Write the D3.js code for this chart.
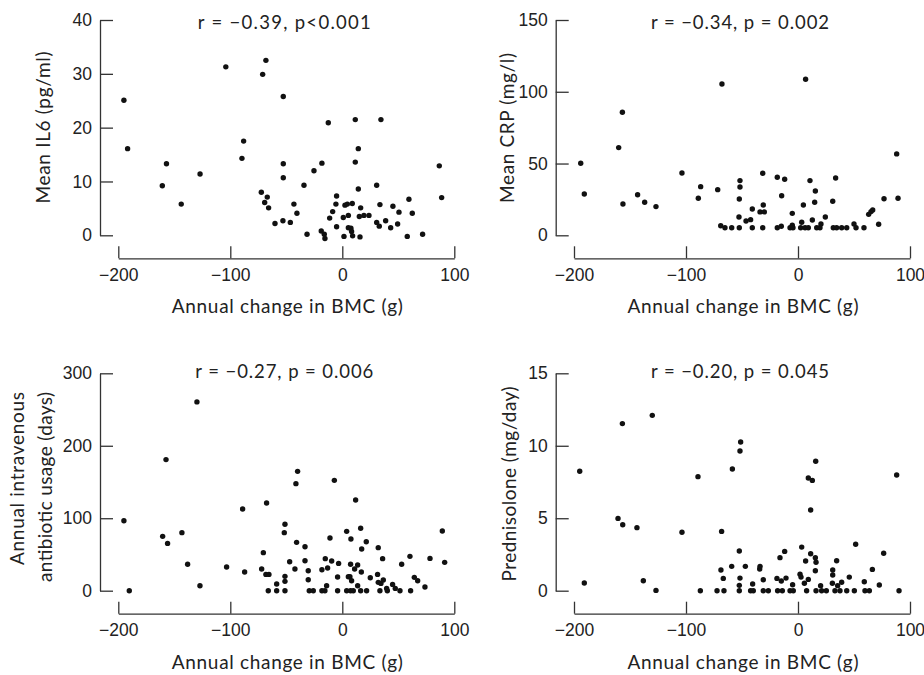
<!DOCTYPE html>
<html>
<head>
<meta charset="utf-8">
<script src="https://cdn.jsdelivr.net/npm/d3@7.9.0/dist/d3.min.js"></script>
<style>
  body { margin: 0; background: #fff; }
  svg { display: block; font-family: Lato, "Open Sans", sans-serif; }
</style>
</head>
<body>
<svg id="chart" width="924" height="675"></svg>
<script>
// shared x axis: annual change in BMC (g)
const xTicks = [-200, -100, 0, 100];

// [BMC change, value]
const il6Points = [[-195,25.1],[-191.7,16.1],[-160.7,9.2],[-157,13.3],[-143.8,5.8],[-127,11.4],[-104,31.3],[-89.6,14.3],[-88.1,17.5],[-71.1,29.9],[-68.2,32.5],[-72.3,8.0],[-69.3,6.1],[-67,7.1],[-65.8,5.1],[-60.1,2.2],[-52.7,25.8],[-52.7,13.3],[-52.7,10.7],[-53,2.7],[-46.4,2.4],[-43.2,5.8],[-40.5,4.1],[-34.2,9.3],[-31.5,0.2],[-25.3,12.0],[-18.2,13.4],[-18.8,0.8],[-16.1,0.2],[-15.5,-0.6],[-12.5,20.9],[-11.3,3.2],[-8.6,4.4],[-5.1,7.3],[-5.7,5.8],[-5.1,1.6],[1.5,-0.2],[0.9,3.3],[2.4,5.6],[4.5,5.8],[5.4,3.7],[5.4,1.4],[7.7,1.3],[8.9,5.9],[8.3,0.7],[9.2,-0.1],[11.6,21.5],[11.6,13.6],[14.3,16.1],[14.3,8.6],[15.2,3.5],[15.8,-0.3],[16.4,5.1],[19.3,3.7],[23.8,3.7],[30.7,9.3],[30.7,2.4],[33,1.7],[33.6,5.7],[34.5,21.5],[38.7,2.7],[43.2,1.4],[45.2,5.4],[49.4,2.1],[50.6,4.3],[58,-0.2],[59.5,6.7],[62.5,4.1],[71.7,0.2],[86.6,12.9],[88.7,7.0]];

const crpPoints = [[-194,50.2],[-190.8,28.8],[-160.1,61.1],[-156.8,85.7],[-156.3,21.8],[-143.2,28.3],[-136.9,23.0],[-126.8,20.0],[-103.6,43.4],[-89,25.8],[-86.9,33.9],[-71.7,31.8],[-67.9,105.4],[-69,6.7],[-65.2,5.3],[-59.2,5.3],[-52.4,5.3],[-51.8,38.1],[-51.8,33.7],[-52.4,25.3],[-52.7,12.8],[-46.4,10.0],[-42.3,10.9],[-40.8,18.3],[-40.8,5.3],[-33.9,16.3],[-30.1,16.3],[-31,21.1],[-31.5,43.2],[-31.5,5.3],[-18.5,40.4],[-18.5,5.3],[-14.9,6.3],[-14.6,27.6],[-11.9,39.0],[-7.1,5.3],[-5.1,15.3],[-5.1,7.0],[-4.5,5.3],[2.4,5.3],[3.3,9.1],[4.8,21.1],[6.3,5.3],[6.8,108.7],[9.2,5.3],[10.7,38.1],[12.8,10.7],[15.5,30.9],[14.9,23.0],[16.7,5.3],[19.6,5.3],[20.5,7.9],[24.4,12.8],[31,23.7],[31.5,5.3],[33.6,39.9],[34.5,5.3],[39,5.3],[43.5,5.3],[50,7.9],[51.8,5.3],[58.9,5.3],[63.1,14.6],[65.2,16.5],[66.7,17.6],[72,7.7],[76.8,25.5],[88.1,56.7],[89.3,25.8]];

const ivPoints = [[-195,96.6],[-190.2,0],[-160.4,75],[-157.4,180.9],[-156,65.3],[-143.2,80.1],[-138.1,36.4],[-129.8,260.5],[-127.1,6.9],[-103.3,32.7],[-89,112.7],[-87.2,25.8],[-72,29.9],[-70.5,52.5],[-67.6,121],[-68.2,22.5],[-65.5,22.5],[-66.1,0],[-58.6,9.2],[-58.6,0],[-51.2,91.6],[-51.8,80.1],[-51.2,19.8],[-51.2,12.9],[-51.2,0],[-47,40],[-42.3,29.9],[-41.4,147.7],[-39.9,164.7],[-40.8,66.7],[-33.3,60.7],[-33.3,41.4],[-30.4,27.6],[-30.4,15.2],[-29.5,0],[-25.9,0],[-18.2,29],[-18.2,0],[-15.5,0],[-15.2,44.2],[-14,6.9],[-13.1,31.3],[-11,72.7],[-9.5,41],[-7.1,152.3],[-4.2,18.9],[-4.2,0],[-3.3,37.7],[3.9,81.9],[5.4,19.3],[3.9,0],[7.4,36.4],[7.7,71.3],[6.8,19.3],[8.3,13.8],[7.4,0],[9.8,0],[11,29.9],[11.9,125.2],[13.7,35.4],[13.7,6.9],[16.4,86.1],[17.3,57.5],[17,25.8],[16.4,0],[21.4,67.6],[21.7,0],[25,17.9],[32.1,59.4],[31.5,22.5],[32.1,11.5],[34.5,10.1],[36,44.2],[36.6,14.7],[33.6,0],[39.6,3.2],[40.2,0],[44.9,8.7],[47.3,3.2],[51.5,0],[53,36.4],[60.4,47.4],[61,0],[64.3,18.4],[67.3,13.8],[73.8,5.1],[78.3,44.6],[89.3,82.4],[91.4,39.1]];

const prednPoints = [[-194.9,8.24],[-190.8,0.53],[-160.7,4.99],[-156.8,11.53],[-156.5,4.55],[-143.8,4.35],[-138.1,0.69],[-130.1,12.1],[-126.8,0.02],[-103.6,4.03],[-89.3,7.87],[-87.2,0],[-72.3,0],[-68.2,4.09],[-68.8,1.43],[-66.7,0.85],[-66.1,0],[-59.2,1.68],[-58.6,8.4],[-52.4,2.74],[-51.8,9.64],[-51.2,10.26],[-51.8,0.87],[-52.4,0.37],[-52.4,0],[-47,1.68],[-42.3,0],[-40.5,0.46],[-39.9,0],[-34.2,1.5],[-33.9,1.68],[-31,0.76],[-31,0],[-26.5,0],[-18.8,0.85],[-18.2,0],[-16.1,2.28],[-14.9,0.67],[-14,0],[-11.9,2.71],[-10.7,0.87],[-7.1,0],[-4.8,0.41],[-4.2,0],[1.8,1.13],[2.7,0.94],[3.3,3.01],[5.7,0.51],[6.8,2.05],[7.7,0],[9.2,0.78],[9.2,7.78],[12.8,7.61],[11.3,5.57],[11.3,2.55],[15.5,2.28],[16.1,1.96],[15.5,1.38],[15.8,8.93],[16.1,0],[20.2,0.35],[21.1,0],[25.3,0],[31,1.43],[31,1.08],[30.7,0.51],[33,0],[34.5,2.07],[35.4,0.35],[37.5,0],[39,0.58],[43.5,0],[45.8,0.94],[50.3,0],[51.5,3.2],[59.2,0.62],[59.8,0],[63.7,0],[66.4,1.47],[72.6,0.39],[76.5,2.58],[88.1,7.98],[90.2,0]];

// y label lines: [text, baseline offset left of the axis, text length]
const panels = [
  { points: il6Points, yMax: 40, yTicks: [0, 10, 20, 30, 40],
    label: [['Mean IL6 (pg/ml)', 50, 152]], labelAnchor: 'middle', labelY: 127.5,
    stat: 'r = \u22120.39, p<0.001', statLen: 173, statY: 28.5,
    left: 100, top: 20, bottom: 235.3 },
  { points: crpPoints, yMax: 150, yTicks: [0, 50, 100, 150],
    label: [['Mean CRP (mg/l)', 42, 150]], labelAnchor: 'middle', labelY: 128,
    stat: 'r = \u22120.34, p = 0.002', statLen: 178, statY: 28.5,
    left: 555.7, top: 20, bottom: 235.3 },
  { points: ivPoints, yMax: 300, yTicks: [0, 100, 200, 300],
    label: [['Annual intravenous', 76, 173], ['antibiotic usage (days)', 48, 190]], labelAnchor: 'end', labelY: 392,
    stat: 'r = \u22120.27, p = 0.006', statLen: 178, statY: 378,
    left: 100, top: 373.3, bottom: 590.7 },
  { points: prednPoints, yMax: 15, yTicks: [0, 5, 10, 15],
    label: [['Prednisolone (mg/day)', 40, 195]], labelAnchor: 'middle', labelY: 484,
    stat: 'r = \u22120.20, p = 0.045', statLen: 178, statY: 378,
    left: 555.7, top: 373.3, bottom: 590.7 },
];

const svg = d3.select('#chart');
const ink = '#222';

panels.forEach((p) => {
  const x = d3.scaleLinear().domain([-200, 100]).range([p.left + 18.3, p.left + 354.3]);
  const y = d3.scaleLinear().domain([0, p.yMax]).range([p.bottom, p.top]);
  const axisY = p.bottom + 23;

  const g = svg.append('g');

  // y axis, ticks point into the plot
  const yAxis = g.append('g')
    .attr('transform', `translate(${p.left},0)`)
    .call(d3.axisLeft(y).tickValues(p.yTicks).tickSizeInner(-13).tickSizeOuter(0).tickPadding(8));

  // x axis sits below the data, ticks point up
  const xAxis = g.append('g')
    .attr('transform', `translate(0,${axisY})`)
    .call(d3.axisBottom(x).tickValues(xTicks).tickSizeInner(-12).tickSizeOuter(0).tickPadding(10));

  [yAxis, xAxis].forEach((a) => {
    a.selectAll('path, line').attr('stroke', '#333').attr('stroke-width', 1.3);
    a.selectAll('text').attr('fill', ink).style('font-size', '17.5px');
  });

  g.append('g')
    .selectAll('circle')
    .data(p.points)
    .join('circle')
    .attr('cx', (d) => x(d[0]))
    .attr('cy', (d) => y(d[1]))
    .attr('r', 2.7)
    .attr('fill', '#111');

  const cx = (x.range()[0] + x.range()[1]) / 2;

  g.append('text')
    .attr('x', cx - 2)
    .attr('y', p.statY)
    .attr('text-anchor', 'middle')
    .attr('fill', ink)
    .attr('textLength', p.statLen)
    .attr('lengthAdjust', 'spacing')
    .style('font-size', '18.5px')
    .text(p.stat);

  g.append('text')
    .attr('x', cx + 1)
    .attr('y', axisY + 55)
    .attr('text-anchor', 'middle')
    .attr('fill', ink)
    .attr('textLength', 231)
    .attr('lengthAdjust', 'spacing')
    .style('font-size', '19px')
    .text('Annual change in BMC (g)');

  p.label.forEach(([t, off, len]) => {
    g.append('text')
      .attr('transform', `translate(${p.left - off},${p.labelY}) rotate(-90)`)
      .attr('text-anchor', p.labelAnchor)
      .attr('fill', ink)
      .attr('textLength', len)
      .attr('lengthAdjust', 'spacing')
      .style('font-size', '19px')
      .text(t);
  });
});
</script>
</body>
</html>
